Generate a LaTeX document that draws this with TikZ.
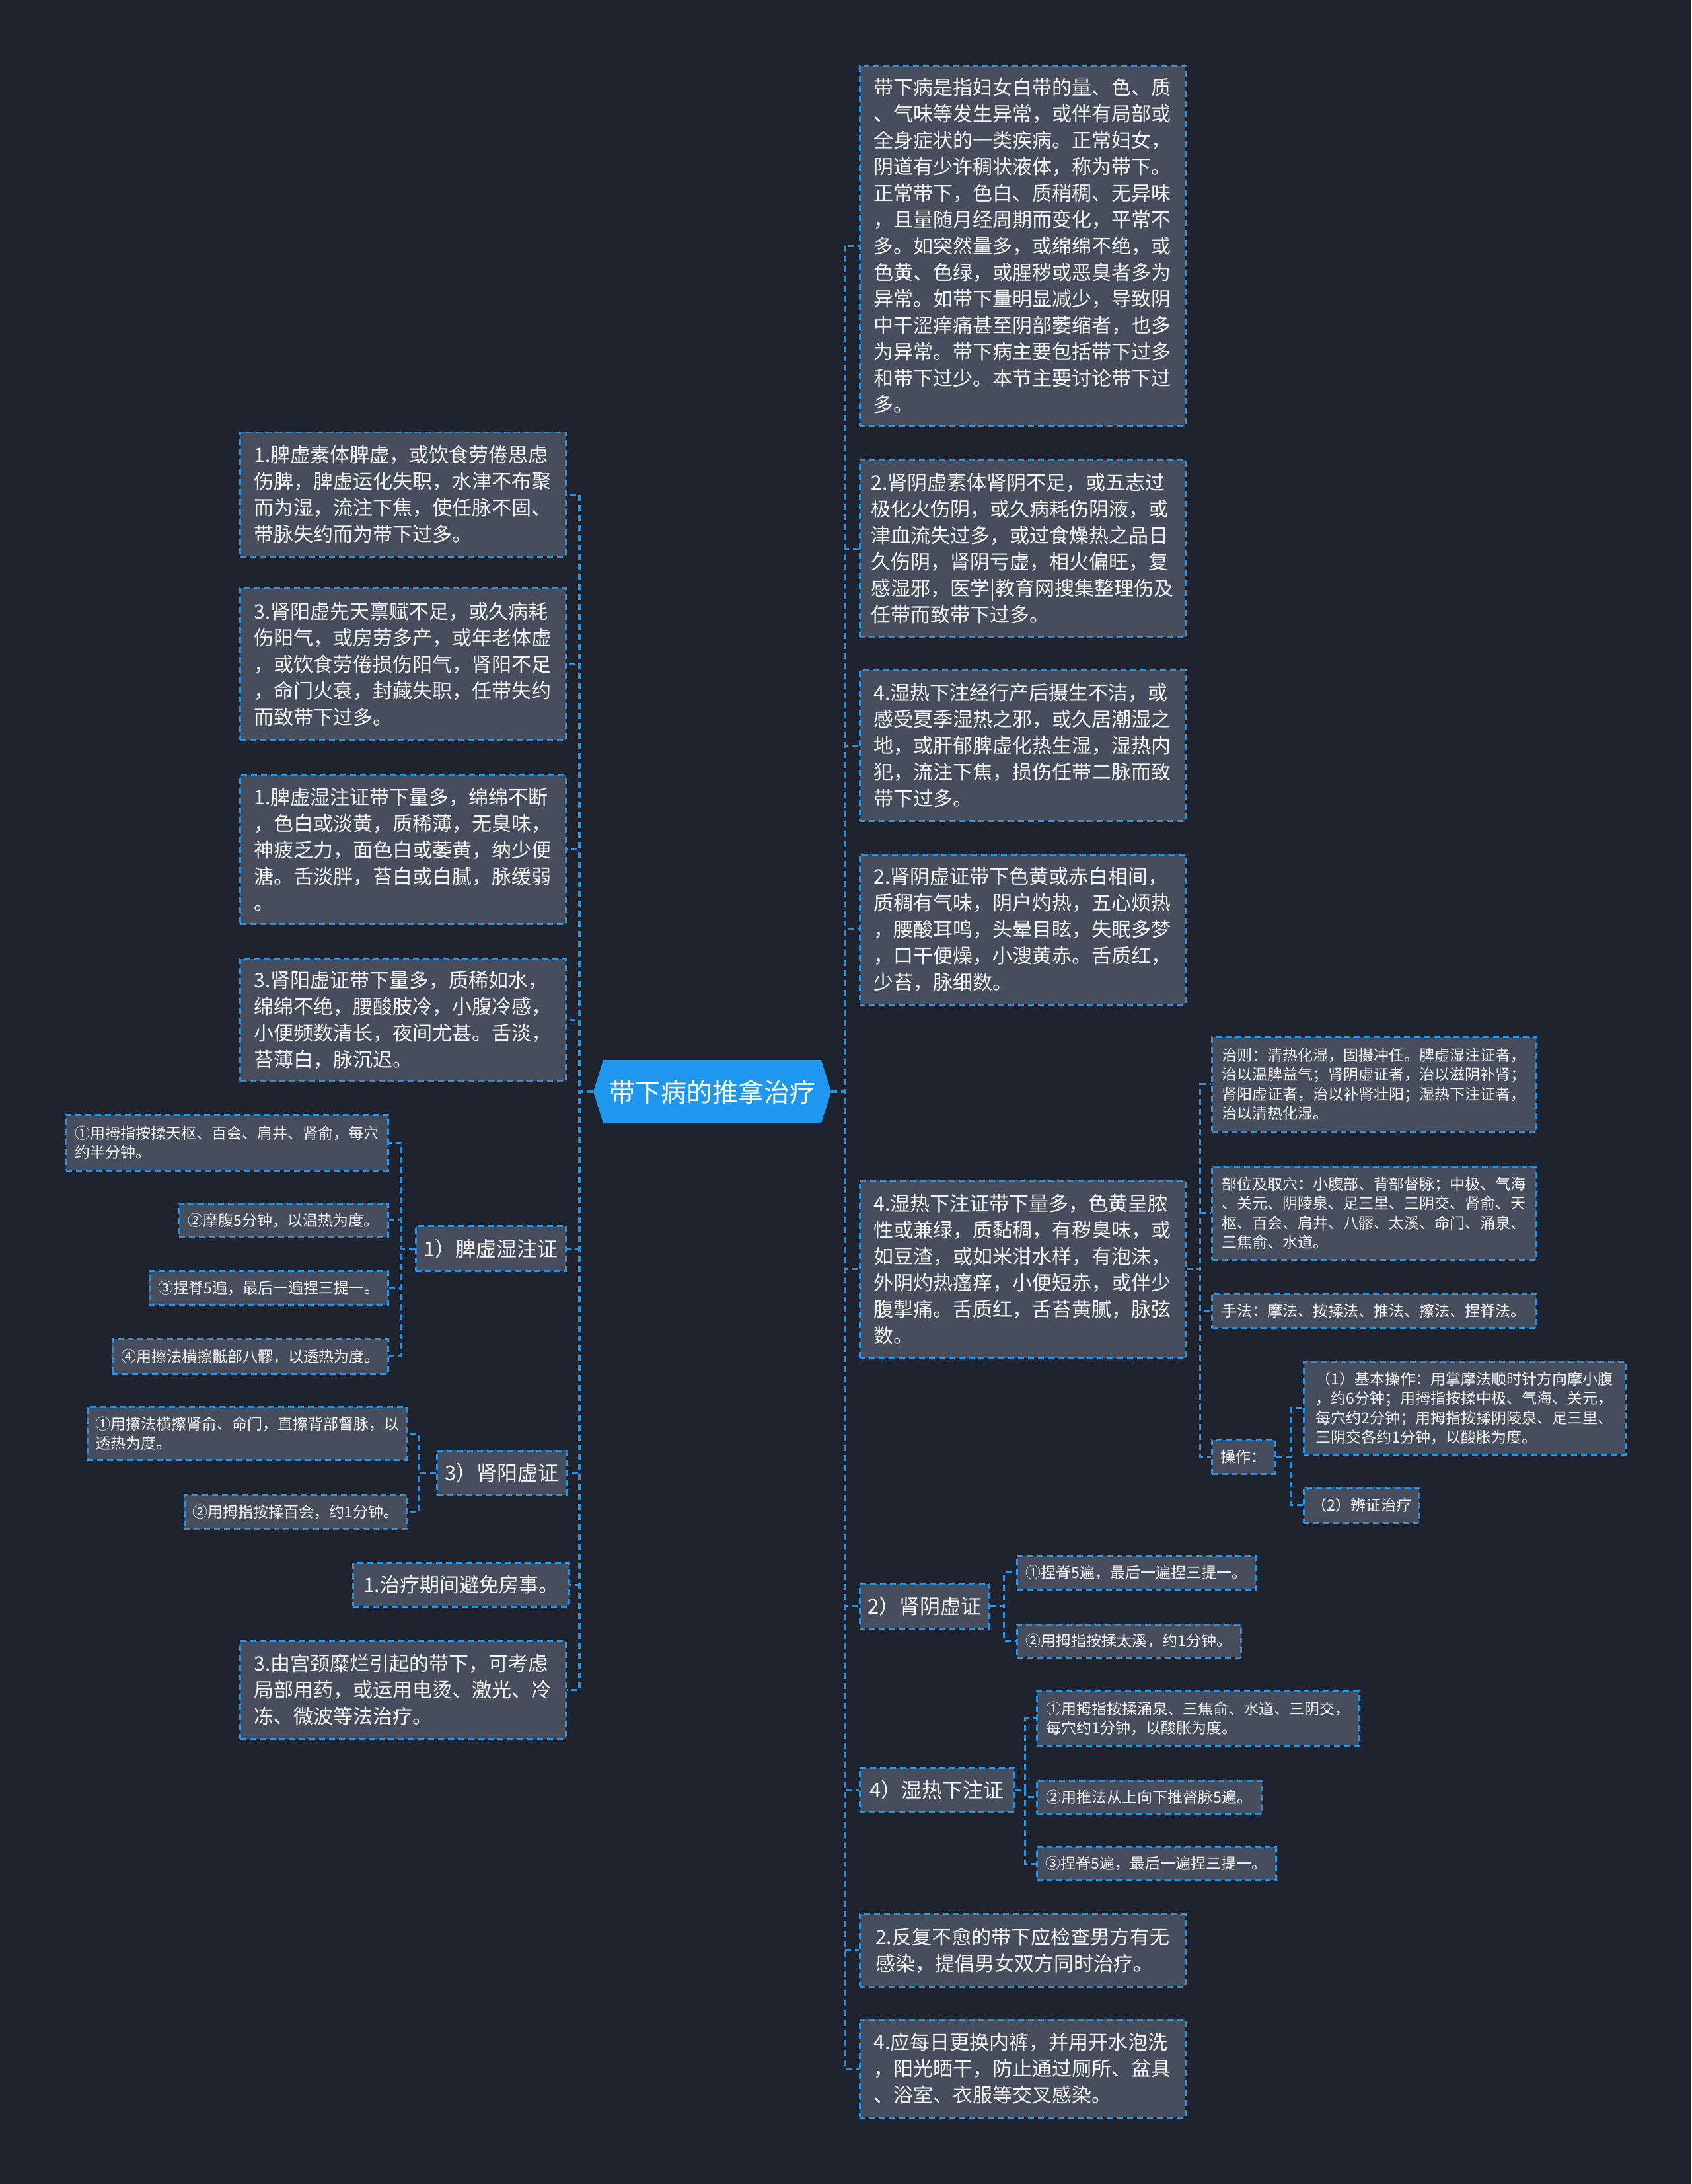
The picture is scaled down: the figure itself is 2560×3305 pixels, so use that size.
\documentclass[tikz,border=0pt]{standalone}
\usepackage{fontspec}
\newfontfamily\cjk{Noto Sans CJK SC}
\usetikzlibrary{shapes.symbols}
\definecolor{bg}{HTML}{1F232E}
\definecolor{boxfill}{HTML}{464D5C}
\definecolor{edge}{HTML}{2692E6}
\definecolor{rootfill}{HTML}{1E98EE}
\definecolor{txt}{HTML}{F4F4F4}
\tikzset{
 box/.style={draw=edge, fill=boxfill, line width=2.5pt, dash pattern=on 9pt off 6pt, text=txt, inner xsep=16pt, inner ysep=0pt, anchor=north west, align=left, font=\cjk\fontsize{30}{40}\selectfont},
 sbox/.style={box, inner xsep=12pt, font=\cjk\fontsize{23}{29.5}\selectfont},
 mbox/.style={box, inner xsep=12pt, font=\cjk\fontsize{31}{40}\selectfont},
 conn/.style={draw=edge, line width=3.4pt, dash pattern=on 9pt off 6pt},
 rootnode/.style={shape=signal, signal to=west and east, signal pointer angle=145, fill=rootfill, text=white, minimum width=360pt, minimum height=96pt, inner sep=0pt, font=\cjk\fontsize{39}{44}\selectfont},
}
\newcommand\mybox[7]{\node[#1, minimum width=#5pt, minimum height=#6pt] (#2) at (#3,#4) {#7};}
\begin{document}
\begin{tikzpicture}[x=1pt,y=-1pt]
\fill[bg] (0,0) rectangle (2560,3305);
\useasboundingbox (0,0) rectangle (2560,3305);

\node[rootnode] (root) at (1078,1652) {带下病的推拿治疗};

% ---------- left side ----------
\mybox{box}{L1}{362}{653}{493}{188}{1.脾虚素体脾虚，或饮食劳倦思虑\\伤脾，脾虚运化失职，水津不布聚\\而为湿，流注下焦，使任脉不固、\\带脉失约而为带下过多。}
\mybox{box}{L2}{362}{889}{493}{230}{3.肾阳虚先天禀赋不足，或久病耗\\伤阳气，或房劳多产，或年老体虚\\，或饮食劳倦损伤阳气，肾阳不足\\，命门火衰，封藏失职，任带失约\\而致带下过多。}
\mybox{box}{L3}{362}{1172}{493}{225}{1.脾虚湿注证带下量多，绵绵不断\\，色白或淡黄，质稀薄，无臭味，\\神疲乏力，面色白或萎黄，纳少便\\溏。舌淡胖，苔白或白腻，脉缓弱\\。}
\mybox{box}{L4}{362}{1450}{493}{185}{3.肾阳虚证带下量多，质稀如水，\\绵绵不绝，腰酸肢冷，小腹冷感，\\小便频数清长，夜间尤甚。舌淡，\\苔薄白，脉沉迟。}
\mybox{mbox}{S1}{628}{1854}{227}{68}{1）脾虚湿注证}
\mybox{sbox}{S1a}{99}{1686}{487}{84}{①用拇指按揉天枢、百会、肩井、肾俞，每穴\\约半分钟。}
\mybox{sbox}{S1b}{270}{1820}{316}{51}{②摩腹5分钟，以温热为度。}
\mybox{sbox}{S1c}{225}{1922}{361}{52}{③捏脊5遍，最后一遍捏三提一。}
\mybox{sbox}{S1d}{169}{2025}{417}{53}{④用擦法横擦骶部八髎，以透热为度。}
\mybox{mbox}{S3}{660}{2194}{195}{67}{3）肾阳虚证}
\mybox{sbox}{S3a}{131}{2128}{484}{80}{①用擦法横擦肾俞、命门，直擦背部督脉，以\\透热为度。}
\mybox{sbox}{S3b}{278}{2261}{337}{52}{②用拇指按揉百会，约1分钟。}
\mybox{box}{N1}{533}{2364}{322}{66}{1.治疗期间避免房事。}
\mybox{box}{N3}{362}{2482}{493}{148}{3.由宫颈糜烂引起的带下，可考虑\\局部用药，或运用电烫、激光、冷\\冻、微波等法治疗。}

% ---------- right side ----------
\mybox{box}{R1}{1300}{99}{493}{544}{带下病是指妇女白带的量、色、质\\、气味等发生异常，或伴有局部或\\全身症状的一类疾病。正常妇女，\\阴道有少许稠状液体，称为带下。\\正常带下，色白、质稍稠、无异味\\，且量随月经周期而变化，平常不\\多。如突然量多，或绵绵不绝，或\\色黄、色绿，或腥秽或恶臭者多为\\异常。如带下量明显减少，导致阴\\中干涩痒痛甚至阴部萎缩者，也多\\为异常。带下病主要包括带下过多\\和带下过少。本节主要讨论带下过\\多。}
\mybox{box}{R2}{1300}{695}{493}{268}{2.肾阴虚素体肾阴不足，或五志过\\极化火伤阴，或久病耗伤阴液，或\\津血流失过多，或过食燥热之品日\\久伤阴，肾阴亏虚，相火偏旺，复\\感湿邪，医学|教育网搜集整理伤及\\任带而致带下过多。}
\mybox{box}{R3}{1300}{1013}{493}{228}{4.湿热下注经行产后摄生不洁，或\\感受夏季湿热之邪，或久居潮湿之\\地，或肝郁脾虚化热生湿，湿热内\\犯，流注下焦，损伤任带二脉而致\\带下过多。}
\mybox{box}{R4}{1300}{1292}{493}{227}{2.肾阴虚证带下色黄或赤白相间，\\质稠有气味，阴户灼热，五心烦热\\，腰酸耳鸣，头晕目眩，失眠多梦\\，口干便燥，小溲黄赤。舌质红，\\少苔，脉细数。}
\mybox{box}{R5}{1300}{1785}{493}{269}{4.湿热下注证带下量多，色黄呈脓\\性或兼绿，质黏稠，有秽臭味，或\\如豆渣，或如米泔水样，有泡沫，\\外阴灼热瘙痒，小便短赤，或伴少\\腹掣痛。舌质红，舌苔黄腻，脉弦\\数。}
\mybox{sbox}{T1}{1833}{1568}{491}{143}{治则：清热化湿，固摄冲任。脾虚湿注证者，\\治以温脾益气；肾阴虚证者，治以滋阴补肾；\\肾阳虚证者，治以补肾壮阳；湿热下注证者，\\治以清热化湿。}
\mybox{sbox}{T2}{1833}{1764}{491}{141}{部位及取穴：小腹部、背部督脉；中极、气海\\、关元、阴陵泉、足三里、三阴交、肾俞、天\\枢、百会、肩井、八髎、太溪、命门、涌泉、\\三焦俞、水道。}
\mybox{sbox}{T3}{1833}{1957}{491}{51}{手法：摩法、按揉法、推法、擦法、捏脊法。}
\mybox{sbox}{T4}{1833}{2178}{95}{51}{操作：}
\mybox{sbox}{T4a}{1972}{2059}{487}{141}{（1）基本操作：用掌摩法顺时针方向摩小腹\\，约6分钟；用拇指按揉中极、气海、关元，\\每穴约2分钟；用拇指按揉阴陵泉、足三里、\\三阴交各约1分钟，以酸胀为度。}
\mybox{sbox}{T4b}{1972}{2250}{175}{53}{（2）辨证治疗}
\mybox{mbox}{R6}{1300}{2396}{196}{67}{2）肾阴虚证}
\mybox{sbox}{R6a}{1538}{2353}{362}{51}{①捏脊5遍，最后一遍捏三提一。}
\mybox{sbox}{R6b}{1538}{2457}{339}{50}{②用拇指按揉太溪，约1分钟。}
\mybox{mbox}{R7}{1300}{2674}{234}{67}{4）湿热下注证}
\mybox{sbox}{R7a}{1568}{2558}{488}{82}{①用拇指按揉涌泉、三焦俞、水道、三阴交，\\每穴约1分钟，以酸胀为度。}
\mybox{sbox}{R7b}{1568}{2693}{341}{51}{②用推法从上向下推督脉5遍。}
\mybox{sbox}{R7c}{1568}{2794}{362}{50}{③捏脊5遍，最后一遍捏三提一。}
\mybox{box}{R8}{1300}{2895}{493}{110}{2.反复不愈的带下应检查男方有无\\感染，提倡男女双方同时治疗。}
\mybox{box}{R9}{1300}{3055}{493}{148}{4.应每日更换内裤，并用开水泡洗\\，阳光晒干，防止通过厕所、盆具\\、浴室、衣服等交叉感染。}

% ---------- connectors ----------
\foreach \c in {L1,L2,L3,L4,S1,S3,N1,N3}
  \draw[conn] (root.west) -- ++(-21,0) |- (\c.east);
\foreach \c in {R1,R2,R3,R4,R5,R6,R7,R8,R9}
  \draw[conn] (root.east) -- ++(20,0) |- (\c.west);
\foreach \c in {S1a,S1b,S1c,S1d}
  \draw[conn] (S1.west) -- ++(-21,0) |- (\c.east);
\foreach \c in {S3a,S3b}
  \draw[conn] (S3.west) -- ++(-26,0) |- (\c.east);
\foreach \c in {T1,T2,T3,T4}
  \draw[conn] (R5.east) -- ++(21,0) |- (\c.west);
\foreach \c in {T4a,T4b}
  \draw[conn] (T4.east) -- ++(23,0) |- (\c.west);
\foreach \c in {R6a,R6b}
  \draw[conn] (R6.east) -- ++(21,0) |- (\c.west);
\foreach \c in {R7a,R7b,R7c}
  \draw[conn] (R7.east) -- ++(15,0) |- (\c.west);
\end{tikzpicture}
\end{document}
